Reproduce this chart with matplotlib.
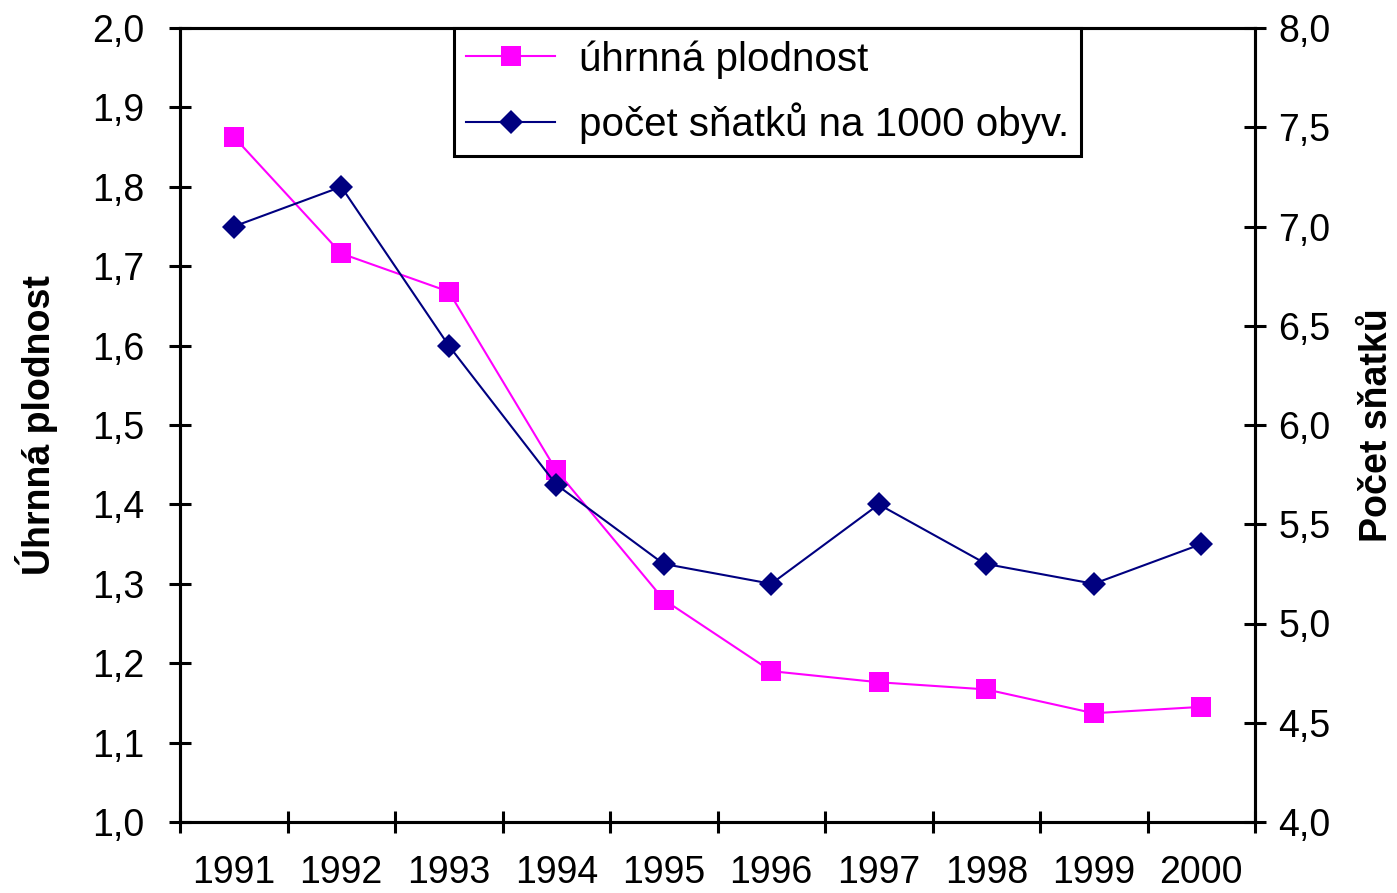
import numpy as np
import matplotlib
matplotlib.use('Agg')
import matplotlib.pyplot as plt

plt.rcParams['font.family'] = ['Liberation Sans', 'DejaVu Sans']

# data
years = ['1991', '1992', '1993', '1994', '1995', '1996', '1997', '1998', '1999', '2000']
fertility = [1.863, 1.716, 1.668, 1.443, 1.280, 1.190, 1.176, 1.167, 1.137, 1.145]
marriages = [7.0, 7.2, 6.4, 5.7, 5.3, 5.2, 5.6, 5.3, 5.2, 5.4]
left_ticks = [1.0, 1.1, 1.2, 1.3, 1.4, 1.5, 1.6, 1.7, 1.8, 1.9, 2.0]
right_ticks = [4.0, 4.5, 5.0, 5.5, 6.0, 6.5, 7.0, 7.5, 8.0]

fs = 27
x = np.arange(len(years))

fig = plt.figure(figsize=(13.97, 8.93), dpi=100)
ax = fig.add_axes([180 / 1397, 1 - 822 / 893, (1255 - 180) / 1397, (822 - 28) / 893])
ax2 = ax.twinx()

l1, = ax.plot(x, fertility, color='#ff00ff', lw=1.5, marker='s', ms=15,
              markeredgewidth=0, label='úhrnná plodnost')
l2, = ax2.plot(x, marriages, color='#000080', lw=1.5, marker='D', ms=12,
               markeredgewidth=0, label='počet sňatků na 1000 obyv.')

ax.set_xlim(-0.5, len(years) - 0.5)
ax.set_ylim(1.0, 2.0)
ax2.set_ylim(4.0, 8.0)

ax.set_yticks(left_ticks)
ax.set_yticklabels([f'{v:.1f}'.replace('.', ',') for v in left_ticks], fontsize=fs)
ax2.set_yticks(right_ticks)
ax2.set_yticklabels([f'{v:.1f}'.replace('.', ',') for v in right_ticks], fontsize=fs)

ax.set_xticks(np.arange(-0.5, len(years), 1.0))
ax.set_xticklabels([])
ax.set_xticks(x, minor=True)
ax.set_xticklabels(years, minor=True, fontsize=fs)
ax.tick_params(axis='x', which='minor', length=0, pad=24)
ax.tick_params(axis='x', which='major', direction='inout', length=16, width=2.2)
ax.tick_params(axis='y', direction='inout', length=16, width=2.2, pad=18)
ax2.tick_params(axis='y', direction='inout', length=16, width=2.2, pad=9)

for a in (ax, ax2):
    for s in a.spines.values():
        s.set_linewidth(2.2)

ax.set_ylabel('Úhrnná plodnost', fontsize=fs, fontweight='bold', labelpad=24)
ax2.set_ylabel('Počet sňatků', fontsize=fs, fontweight='bold', rotation=90, labelpad=20)

leg = ax2.legend(handles=[l1, l2], loc='upper left', bbox_to_anchor=(0.255, 1.0),
                 fontsize=29, frameon=True, fancybox=False, framealpha=1,
                 edgecolor='black', handlelength=2.2, handletextpad=0.6,
                 borderpad=0.3, labelspacing=0.6, borderaxespad=0)
leg.get_frame().set_linewidth(2.2)

fig.savefig('out.png', dpi=100)
